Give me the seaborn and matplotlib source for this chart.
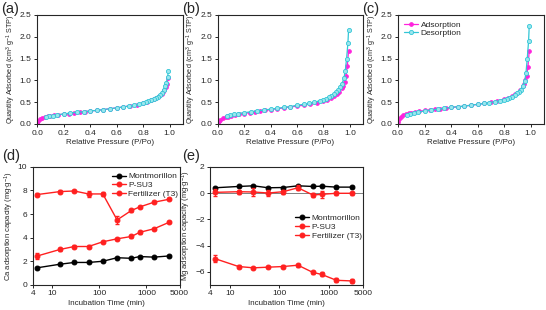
import seaborn as sns
import matplotlib.pyplot as plt
import numpy as np
import pandas as pd

# isotherm data (a), (b), (c)
p_ads = [0.002, 0.01, 0.02, 0.04, 0.06, 0.08, 0.1, 0.13, 0.16, 0.2, 0.24, 0.28, 0.32, 0.36, 0.4, 0.45,
         0.5, 0.55, 0.6, 0.65, 0.7, 0.75, 0.8, 0.83, 0.86, 0.88, 0.9, 0.92, 0.94, 0.95, 0.96, 0.97, 0.98, 0.99]
p_des = [0.99, 0.985, 0.975, 0.965, 0.955, 0.94, 0.925, 0.91, 0.895, 0.88, 0.86, 0.84, 0.82, 0.8,
         0.77, 0.73, 0.69, 0.65, 0.6, 0.55, 0.5, 0.45, 0.4, 0.35, 0.3, 0.25, 0.2, 0.15, 0.12, 0.09, 0.07]

a_ads = [0.02, 0.08, 0.11, 0.14, 0.16, 0.18, 0.19, 0.2, 0.21, 0.23, 0.24, 0.26, 0.27, 0.28, 0.3, 0.31,
         0.33, 0.35, 0.37, 0.39, 0.42, 0.44, 0.47, 0.5, 0.54, 0.57, 0.6, 0.64, 0.69, 0.73, 0.78, 0.84, 0.92, 1.05]
a_des = [1.22, 1.08, 0.95, 0.86, 0.79, 0.72, 0.67, 0.63, 0.6, 0.58, 0.55, 0.53, 0.51, 0.49,
         0.46, 0.43, 0.41, 0.39, 0.37, 0.35, 0.33, 0.31, 0.3, 0.28, 0.27, 0.25, 0.23, 0.21, 0.19, 0.18, 0.16]

b_ads = [0.02, 0.07, 0.1, 0.13, 0.15, 0.17, 0.19, 0.21, 0.22, 0.24, 0.26, 0.28, 0.29, 0.31, 0.33, 0.35,
         0.37, 0.39, 0.41, 0.43, 0.46, 0.49, 0.53, 0.56, 0.6, 0.64, 0.68, 0.74, 0.82, 0.88, 0.96, 1.1, 1.32, 1.68]
b_des = [2.15, 1.85, 1.5, 1.22, 1.05, 0.92, 0.84, 0.78, 0.73, 0.69, 0.65, 0.61, 0.58, 0.56,
         0.53, 0.5, 0.47, 0.45, 0.43, 0.4, 0.38, 0.36, 0.34, 0.32, 0.3, 0.28, 0.26, 0.24, 0.22, 0.2, 0.19]

c_ads = [0.04, 0.12, 0.16, 0.2, 0.23, 0.25, 0.26, 0.28, 0.29, 0.31, 0.32, 0.34, 0.35, 0.36, 0.38, 0.39,
         0.41, 0.43, 0.45, 0.47, 0.5, 0.53, 0.57, 0.6, 0.64, 0.68, 0.72, 0.78, 0.86, 0.92, 1.0, 1.1, 1.3, 1.68]
c_des = [2.25, 1.9, 1.5, 1.16, 0.98, 0.86, 0.79, 0.74, 0.7, 0.67, 0.63, 0.6, 0.58, 0.56,
         0.53, 0.51, 0.49, 0.47, 0.45, 0.43, 0.41, 0.4, 0.38, 0.36, 0.34, 0.32, 0.3, 0.27, 0.25, 0.23, 0.21]

# incubation data (d), (e)
times = [5, 15, 30, 60, 120, 240, 480, 720, 1440, 3000]
series = ["Montmorillon", "P-SU3", "Fertilizer (T3)"]
ca_mont = [1.45, 1.75, 1.9, 1.9, 2.0, 2.3, 2.25, 2.4, 2.35, 2.45]
ca_psu3 = [7.65, 7.9, 7.95, 7.7, 7.7, 5.5, 6.3, 6.6, 7.0, 7.25]
ca_fert = [2.45, 3.0, 3.25, 3.25, 3.65, 3.9, 4.1, 4.45, 4.75, 5.3]
ca_mont_err = [0.08, 0.05, 0.05, 0.06, 0.05, 0.06, 0.05, 0.05, 0.05, 0.05]
ca_psu3_err = [0.12, 0.15, 0.1, 0.25, 0.2, 0.35, 0.1, 0.1, 0.08, 0.1]
ca_fert_err = [0.25, 0.1, 0.1, 0.1, 0.1, 0.1, 0.1, 0.1, 0.1, 0.1]

mg_mont = [0.4, 0.5, 0.55, 0.4, 0.42, 0.55, 0.5, 0.52, 0.45, 0.45]
mg_psu3 = [0.05, 0.1, 0.08, 0.0, 0.1, 0.4, -0.15, -0.1, -0.02, -0.02]
mg_fert = [-5.0, -5.6, -5.7, -5.65, -5.6, -5.5, -6.05, -6.2, -6.65, -6.7]
mg_mont_err = [0.05, 0.05, 0.05, 0.05, 0.05, 0.05, 0.05, 0.05, 0.05, 0.05]
mg_psu3_err = [0.25, 0.15, 0.3, 0.2, 0.15, 0.2, 0.15, 0.25, 0.1, 0.1]
mg_fert_err = [0.25, 0.1, 0.1, 0.08, 0.08, 0.1, 0.1, 0.15, 0.15, 0.15]

sns.set_style("ticks")
plt.rcParams['font.family'] = ['Liberation Sans', 'DejaVu Sans']
plt.rcParams['mathtext.fontset'] = 'custom'
plt.rcParams['mathtext.rm'] = 'Liberation Sans'
plt.rcParams['mathtext.it'] = 'Liberation Sans:italic'
plt.rcParams['axes.linewidth'] = 0.8
plt.rcParams['xtick.major.width'] = 0.7
plt.rcParams['ytick.major.width'] = 0.7
plt.rcParams['xtick.major.size'] = 2.5
plt.rcParams['ytick.major.size'] = 2.5

fig = plt.figure(figsize=(5.46, 3.10), dpi=100)

mag = "#ff22dd"
cyan = "#33c6d6"
leg_kw = dict(fontsize=6, frameon=False, handlelength=1.7, borderpad=0.2,
              labelspacing=0.1, handletextpad=0.3)

iso_pos = [[0.068, 0.6, 0.267, 0.352], [0.399, 0.6, 0.266, 0.352], [0.729, 0.6, 0.267, 0.352]]
iso_data = [(a_ads, a_des), (b_ads, b_des), (c_ads, c_des)]
for i, (pos, (ads, des)) in enumerate(zip(iso_pos, iso_data)):
    ax = fig.add_axes(pos)
    df_a = pd.DataFrame({"x": p_ads, "y": ads})
    df_d = pd.DataFrame({"x": p_des, "y": des})
    sns.lineplot(data=df_a, x="x", y="y", ax=ax, color=mag, lw=0.9, marker="o", ms=2.6,
                 markeredgecolor=mag, sort=False, label="Adsorption")
    sns.lineplot(data=df_d, x="x", y="y", ax=ax, color=cyan, lw=0.9, marker="o", ms=3,
                 markerfacecolor="#9be6ee", markeredgecolor=cyan, markeredgewidth=0.6,
                 sort=False, label="Desorption")
    ax.set_xlim(0, 1.1)
    ax.set_ylim(0, 2.5)
    ax.set_xticks([0.0, 0.2, 0.4, 0.6, 0.8, 1.0])
    ax.set_yticks([0.0, 0.5, 1.0, 1.5, 2.0, 2.5])
    ax.tick_params(labelsize=6, pad=1.5)
    ax.set_xlabel("Relative Pressure (P/Po)", fontsize=5.8, labelpad=2)
    ax.set_ylabel("Quantity Adsorbed (cm$^3$ g$^{-1}$ STP)", fontsize=5.2, labelpad=1.5)
    if i == 2:
        ax.legend(loc="upper left", **leg_kw)
    else:
        ax.get_legend().remove()
    fig.text(pos[0] - 0.066, 0.995, "(" + "abc"[i] + ")", fontsize=10.5, va="top")


def kinetics(ax, mont, psu3, fert, errs):
    ys = [mont, psu3, fert]
    cols = ["black", "#ff2020", "#ff2020"]
    for name, y, e, c in zip(series, ys, errs, cols):
        df = pd.DataFrame({"t": times, "v": y})
        sns.lineplot(data=df, x="t", y="v", ax=ax, color=c, lw=1.0, marker="o", ms=3.5,
                     markeredgecolor=c, label=name)
        ax.errorbar(times, y, yerr=e, fmt="none", ecolor=c, elinewidth=0.7, capsize=1.5)
    ax.set_xscale("log")
    ax.set_xlim(4, 5000)
    ax.set_xticks([4, 10, 100, 1000, 5000])
    ax.set_xticklabels(["4", "10", "100", "1000", "5000"])
    ax.xaxis.set_minor_locator(plt.NullLocator())
    ax.tick_params(labelsize=6, pad=1.5)
    ax.set_xlabel("Incubation Time (min)", fontsize=5.8, labelpad=2)


axd = fig.add_axes([0.060, 0.081, 0.269, 0.381])
kinetics(axd, ca_mont, ca_psu3, ca_fert, [ca_mont_err, ca_psu3_err, ca_fert_err])
axd.set_ylim(0, 10)
axd.set_yticks([0, 2, 4, 6, 8, 10])
axd.set_ylabel("Ca adsorption capacity (mg$\\cdot$g$^{-1}$)", fontsize=5.5, labelpad=1.5)
axd.legend(loc="upper right", bbox_to_anchor=(1.03, 1.0), **leg_kw)
fig.text(0.004, 0.518, "(d)", fontsize=10.5, va="top")

axe = fig.add_axes([0.385, 0.081, 0.280, 0.381])
kinetics(axe, mg_mont, mg_psu3, mg_fert, [mg_mont_err, mg_psu3_err, mg_fert_err])
axe.axhline(0, color="gray", lw=0.7, zorder=0)
axe.set_ylim(-7, 2)
axe.set_yticks([-6, -4, -2, 0, 2])
axe.set_ylabel("Mg adsorption capacity (mg$\\cdot$g$^{-1}$)", fontsize=5.5, labelpad=1.5)
axe.legend(loc="center right", bbox_to_anchor=(1.03, 0.49), **leg_kw)
fig.text(0.333, 0.518, "(e)", fontsize=10.5, va="top")

plt.savefig("out.png", dpi=100)
